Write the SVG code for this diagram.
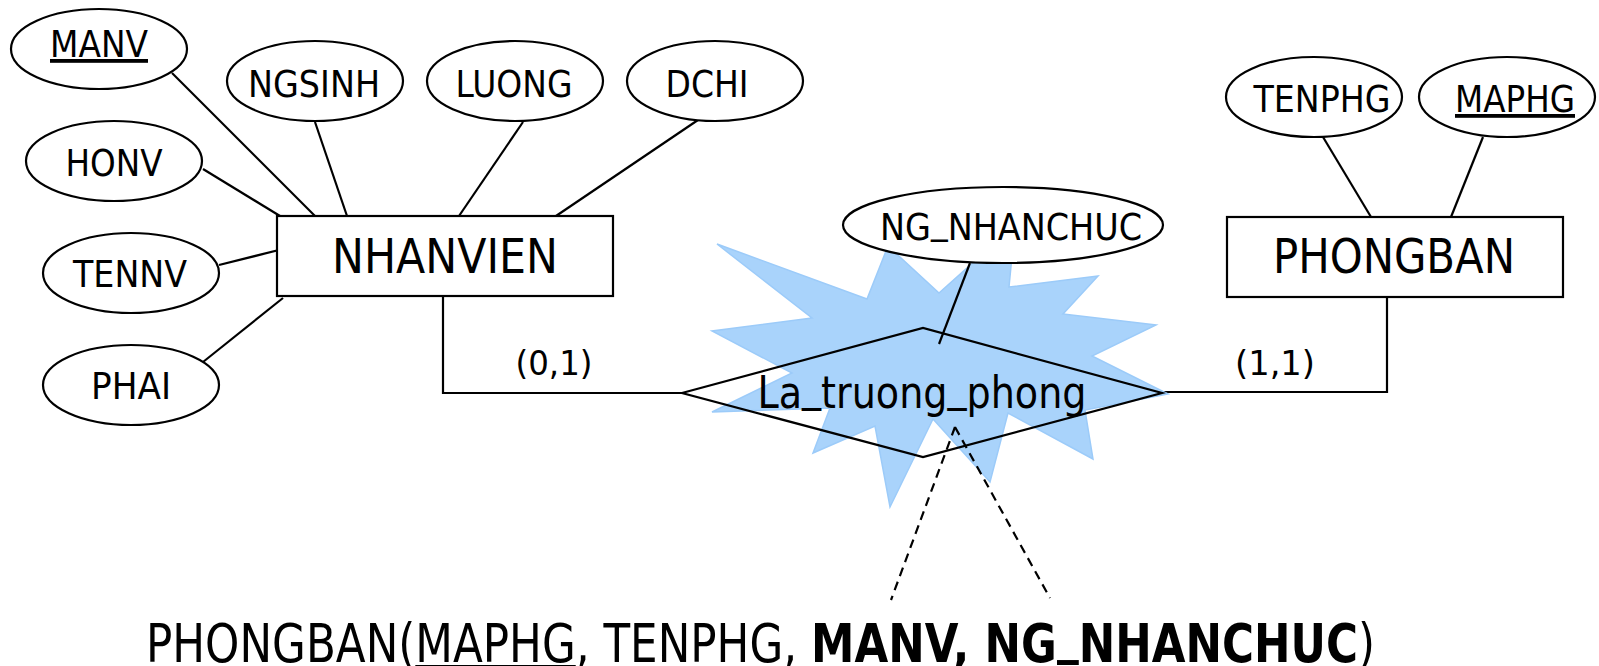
<svg xmlns="http://www.w3.org/2000/svg" width="1599" height="666" viewBox="0 0 1599 666">
  <style>
    text { font-family: "DejaVu Sans", "Liberation Sans", sans-serif; fill: #000; }
    .attr { font-size: 38px; text-anchor: middle; }
    .ent { font-size: 48px; text-anchor: middle; }
    .rel { font-size: 44px; text-anchor: middle; }
    .card { font-size: 34px; text-anchor: middle; }
    .shape { fill: #fff; stroke: #000; stroke-width: 2.2; }
    .link { fill: none; stroke: #000; stroke-width: 2.2; }
    .dash { fill: none; stroke: #000; stroke-width: 2.2; stroke-dasharray: 9 6; }
    .key { text-decoration: underline; }
  </style>
  <rect width="1599" height="666" fill="#fff"/>

  <!-- connectors -->
  <g id="connectors">
    <line class="link" x1="172" y1="73" x2="315" y2="216"/>
    <line class="link" x1="315" y1="122" x2="347" y2="216"/>
    <line class="link" x1="523" y1="122" x2="459" y2="216"/>
    <line class="link" x1="698" y1="120" x2="556" y2="216"/>
    <line class="link" x1="203" y1="169" x2="280" y2="216"/>
    <line class="link" x1="219" y1="265" x2="283" y2="249"/>
    <line class="link" x1="203" y1="362" x2="283" y2="298"/>
    <line class="link" x1="1323" y1="137" x2="1371" y2="217"/>
    <line class="link" x1="1483" y1="137" x2="1451" y2="217"/>
    <polyline class="link" points="443,296 443,393 682,393"/>
    <polyline class="link" points="1387,297 1387,392 1162,392"/>
  </g>

  <!-- highlight burst behind the relationship -->
  <polygon id="burst" fill="#a9d3fb" stroke="#9ccbf9" stroke-width="1.5" stroke-linejoin="miter"
    points="717,244 867,299 888,246 939,293 1015,225 1009,287 1098,276 1063,314 1156,325 1092,356 1168,394 1085,410 1093,459 1008,413 990,482 933,419 890,507 875,426 813,453 830,408 712,412 792,373 712,331 812,318"/>

  <!-- relationship -->
  <g id="la_truong_phong">
    <polygon class="link" points="682,393 923,328 1162,393 923,457"/>
    <text class="rel" x="922" y="408" textLength="329" lengthAdjust="spacingAndGlyphs">La<tspan dy="-8">_</tspan><tspan dy="8">truong</tspan><tspan dy="-8">_</tspan><tspan dy="8">phong</tspan></text>
  </g>
  <line class="link" x1="970" y1="263" x2="939" y2="344"/>

  <!-- cardinalities -->
  <text class="card" x="554" y="375" textLength="77" lengthAdjust="spacingAndGlyphs">(0,1)</text>
  <text class="card" x="1275" y="375" textLength="80" lengthAdjust="spacingAndGlyphs">(1,1)</text>

  <!-- entities -->
  <g id="nhanvien">
    <rect class="shape" x="277" y="216" width="336" height="80"/>
    <text class="ent" x="445" y="273" textLength="226" lengthAdjust="spacingAndGlyphs">NHANVIEN</text>
  </g>
  <g id="phongban">
    <rect class="shape" x="1227" y="217" width="336" height="80"/>
    <text class="ent" x="1394" y="273" textLength="242" lengthAdjust="spacingAndGlyphs">PHONGBAN</text>
  </g>

  <!-- attributes -->
  <g id="manv">
    <ellipse class="shape" cx="99" cy="49" rx="88" ry="40"/>
    <text class="attr key" x="99" y="57" textLength="98" lengthAdjust="spacingAndGlyphs">MANV</text>
  </g>
  <g id="ngsinh">
    <ellipse class="shape" cx="315" cy="81" rx="88" ry="40"/>
    <text class="attr" x="314" y="97" textLength="132" lengthAdjust="spacingAndGlyphs">NGSINH</text>
  </g>
  <g id="luong">
    <ellipse class="shape" cx="515" cy="81" rx="88" ry="40"/>
    <text class="attr" x="514" y="97" textLength="117" lengthAdjust="spacingAndGlyphs">LUONG</text>
  </g>
  <g id="dchi">
    <ellipse class="shape" cx="715" cy="81" rx="88" ry="40"/>
    <text class="attr" x="707" y="97" textLength="83" lengthAdjust="spacingAndGlyphs">DCHI</text>
  </g>
  <g id="honv">
    <ellipse class="shape" cx="114" cy="161" rx="88" ry="40"/>
    <text class="attr" x="114" y="176" textLength="97" lengthAdjust="spacingAndGlyphs">HONV</text>
  </g>
  <g id="tennv">
    <ellipse class="shape" cx="131" cy="273" rx="88" ry="40"/>
    <text class="attr" x="130" y="287" textLength="114" lengthAdjust="spacingAndGlyphs">TENNV</text>
  </g>
  <g id="phai">
    <ellipse class="shape" cx="131" cy="385" rx="88" ry="40"/>
    <text class="attr" x="131" y="399" textLength="80" lengthAdjust="spacingAndGlyphs">PHAI</text>
  </g>
  <g id="tenphg">
    <ellipse class="shape" cx="1314" cy="97" rx="88" ry="40"/>
    <text class="attr" x="1322" y="112" textLength="137" lengthAdjust="spacingAndGlyphs">TENPHG</text>
  </g>
  <g id="maphg">
    <ellipse class="shape" cx="1507" cy="97" rx="88" ry="40"/>
    <text class="attr key" x="1515" y="112" textLength="120" lengthAdjust="spacingAndGlyphs">MAPHG</text>
  </g>
  <g id="ng_nhanchuc">
    <ellipse class="shape" cx="1003" cy="225" rx="160" ry="38"/>
    <text class="attr" x="1011" y="240" textLength="262" lengthAdjust="spacingAndGlyphs">NG<tspan dy="-7">_</tspan><tspan dy="7">NHANCHUC</tspan></text>
  </g>

  <!-- mapping arrows to the relational schema -->
  <g id="mapping">
    <line class="dash" x1="955" y1="427" x2="891" y2="600"/>
    <line class="dash" x1="955" y1="427" x2="1050" y2="598"/>
  </g>

  <!-- resulting relation -->
  <text id="schema" x="146" y="662" font-size="54" textLength="1229" lengthAdjust="spacingAndGlyphs">PHONGBAN(<tspan class="key">MAPHG</tspan>, TENPHG, <tspan font-weight="bold">MANV, NG<tspan dy="-10">_</tspan><tspan dy="10">NHANCHUC</tspan></tspan>)</text>
</svg>
